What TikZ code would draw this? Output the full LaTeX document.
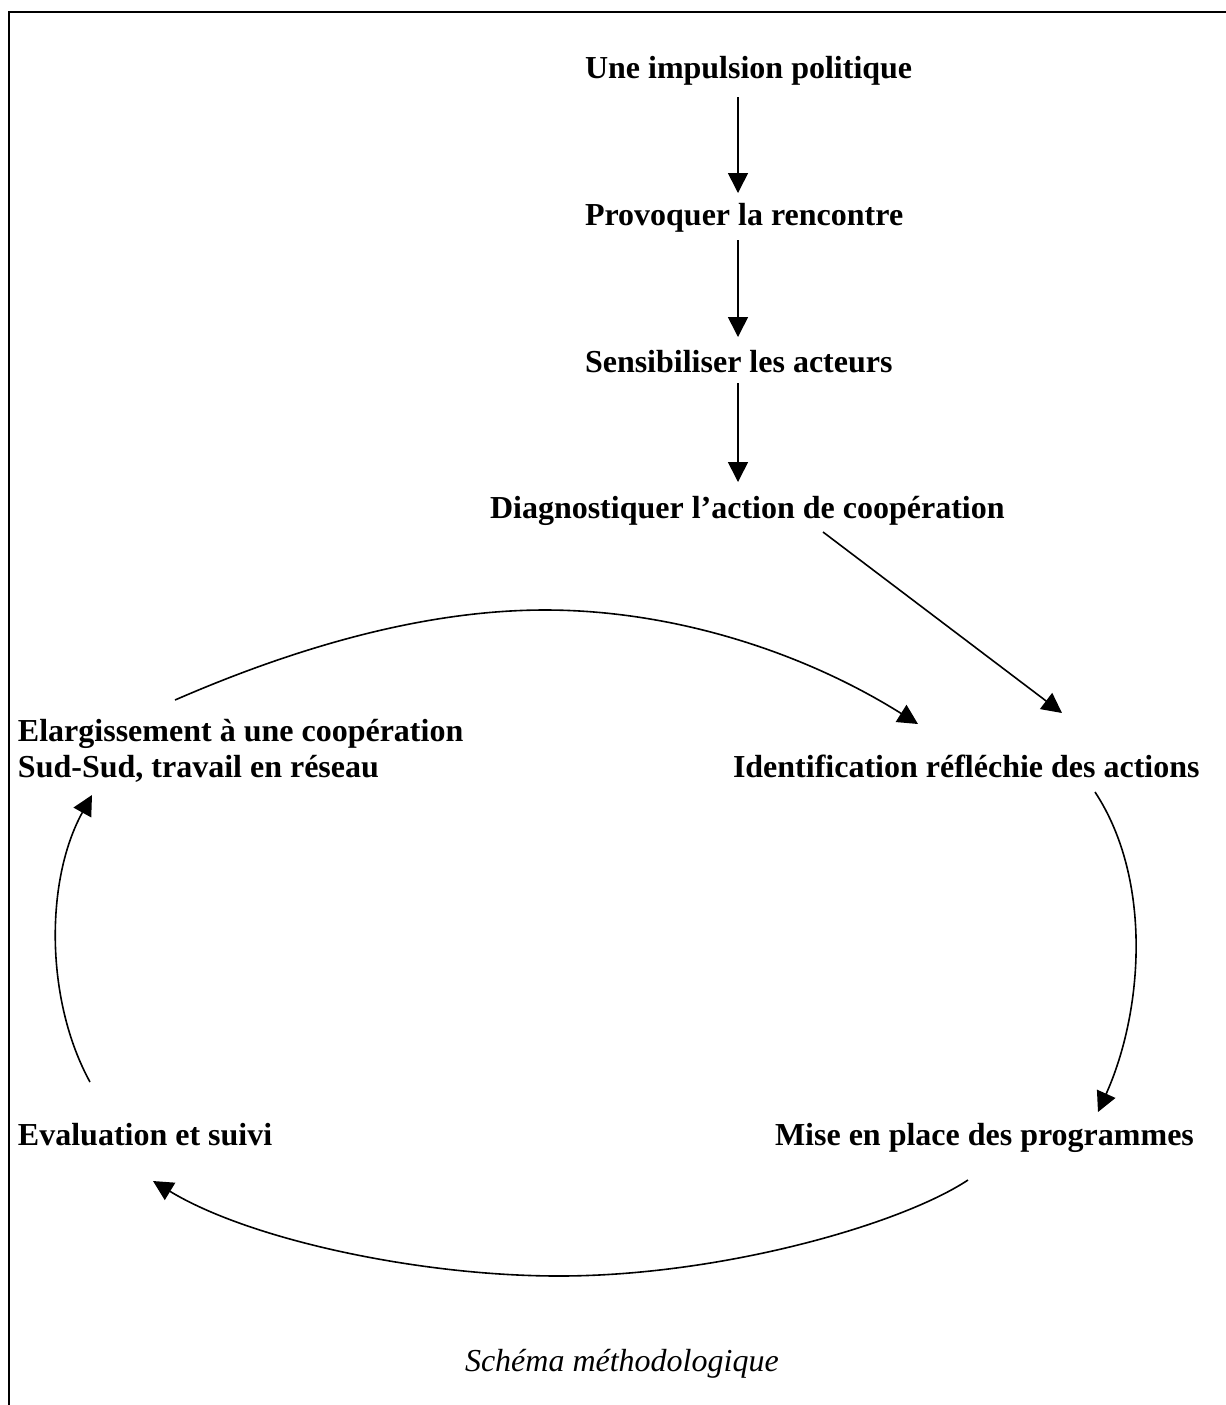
\documentclass[tikz,border=0pt]{standalone}
\usepackage{fontspec}
\setmainfont{Liberation Serif}
\usetikzlibrary{arrows.meta}
\begin{document}
\begin{tikzpicture}[x=0.5pt,y=-0.5pt,
  lbl/.style={font=\fontsize{16}{18}\selectfont\bfseries, inner sep=0pt, outer sep=0pt, anchor=base west, align=left},
  captxt/.style={font=\fontsize{16}{18}\selectfont\itshape, inner sep=0pt, outer sep=0pt, anchor=base west},
  arr/.style={line width=0.8pt, -{Triangle[length=10pt,width=10pt]}},
  framel/.style={line width=1.1pt}]
\useasboundingbox (0,0) rectangle (1226,1405);
\draw[framel] (9,1405) -- (9,12) -- (1226,12);

% nodes
\node[lbl] (n1) at (585,78) {Une impulsion politique};
\node[lbl] (n2) at (585,225) {Provoquer la rencontre};
\node[lbl] (n3) at (585,372) {Sensibiliser les acteurs};
\node[lbl] (n4) at (490,518) {Diagnostiquer l’action de coopération};
\node[lbl] (n5) at (733,777) {Identification réfléchie des actions};
\node[lbl] (n6) at (18,777) {Elargissement à une coopération\\Sud-Sud, travail en réseau};
\node[lbl] (n7) at (18,1145) {Evaluation et suivi};
\node[lbl] (n8) at (775,1145) {Mise en place des programmes};
\node[captxt] (cap) at (465,1371) {Schéma méthodologique};

% connector end points
\coordinate (n1o) at (738,97);  \coordinate (n2i) at (738,193);
\coordinate (n2o) at (738,240); \coordinate (n3i) at (738,337);
\coordinate (n3o) at (738,383); \coordinate (n4i) at (738,482);
\coordinate (n4o) at (823,532); \coordinate (n5i) at (1062,713);
\coordinate (n5o) at (1095,792); \coordinate (n8i) at (1098,1112);
\coordinate (n8o) at (968,1180); \coordinate (n7i) at (153,1181);
\coordinate (n7o) at (90,1082); \coordinate (n6i) at (92,795);
\coordinate (n6o) at (175,700); \coordinate (n5j) at (918,724);
\coordinate (topm) at (545,610); \coordinate (botm) at (559,1276);

% connectors
\draw[arr] (n1o) -- (n2i);
\draw[arr] (n2o) -- (n3i);
\draw[arr] (n3o) -- (n4i);
\draw[arr] (n4o) -- (n5i);
\draw[arr] (n5o) .. controls (1153,880) and (1143,1012) .. (n8i);
\draw[arr] (n8o) .. controls (900,1225) and (720,1276) .. (botm)
                 .. controls (420,1276) and (250,1240) .. (n7i);
\draw[arr] (n7o) .. controls (45,1000) and (45,880) .. (n6i);
\draw[arr] (n6o) .. controls (290,650) and (420,610) .. (topm)
                 .. controls (670,610) and (800,650) .. (n5j);
\end{tikzpicture}
\end{document}
